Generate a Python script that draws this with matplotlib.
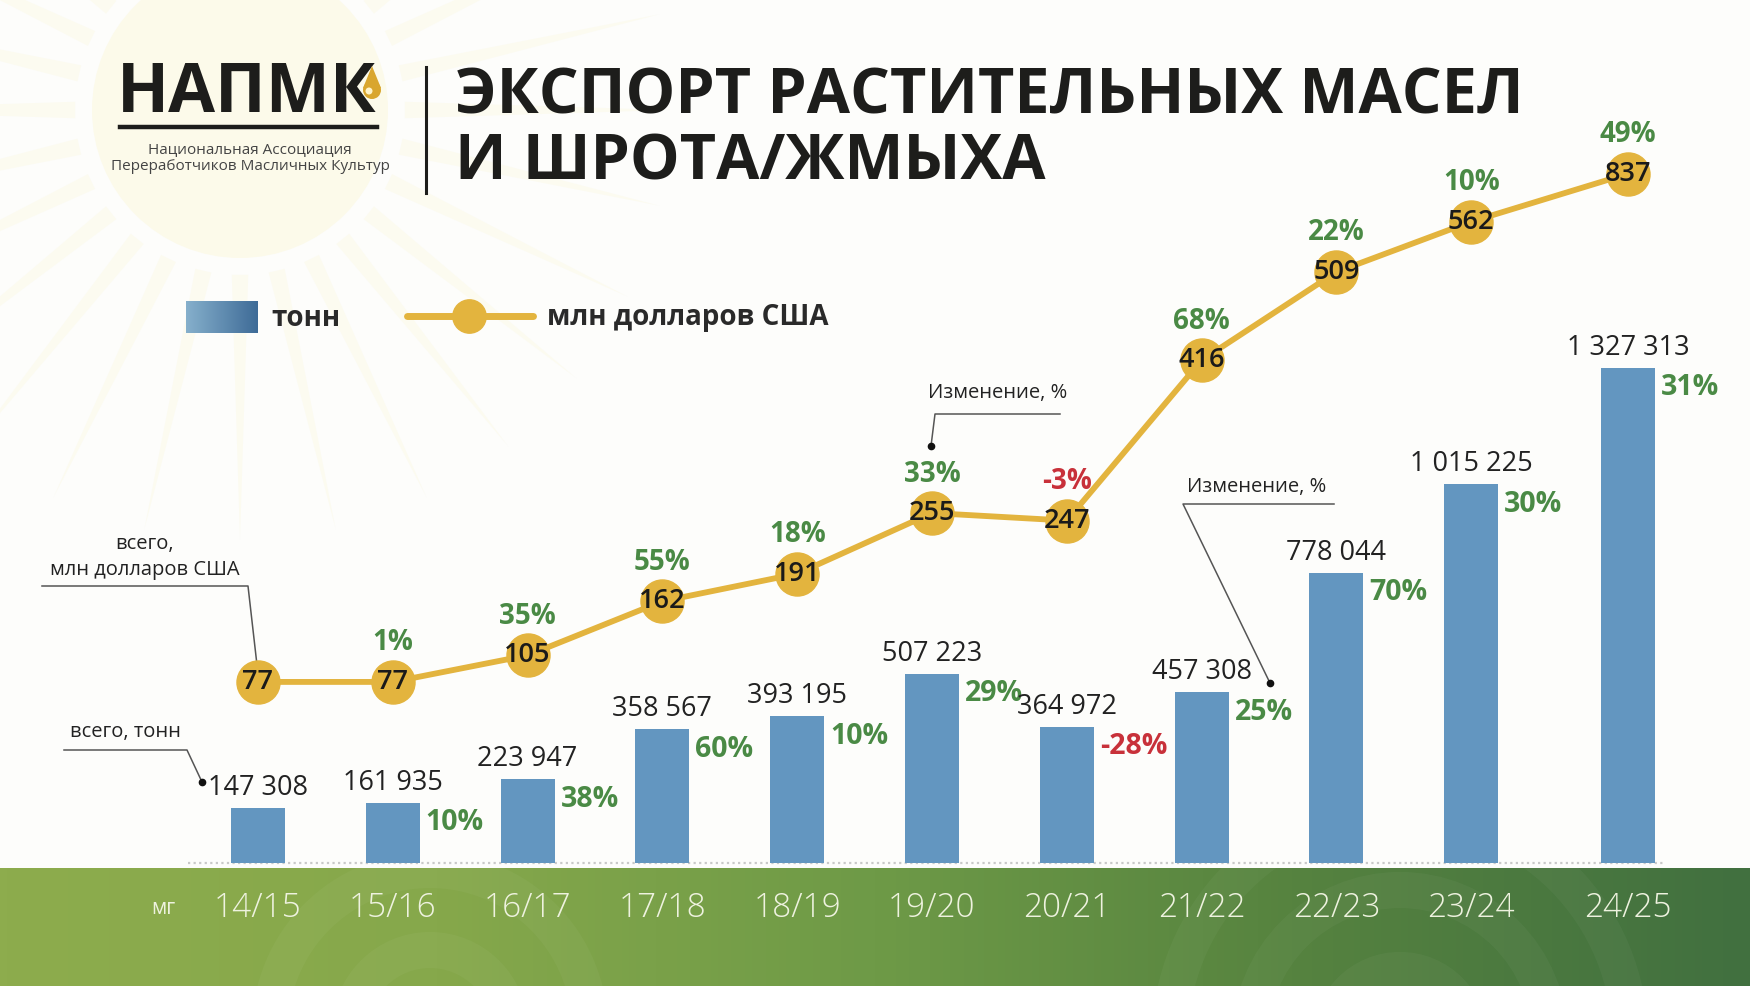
import numpy as np
import matplotlib
matplotlib.use("Agg")
import matplotlib.pyplot as plt
from matplotlib.colors import LinearSegmentedColormap
from matplotlib.patches import Circle, Polygon, Rectangle

FONT = "Open Sans"
plt.rcParams["font.family"] = [FONT, "DejaVu Sans"]

# data
seasons = ["14/15", "15/16", "16/17", "17/18", "18/19", "19/20",
           "20/21", "21/22", "22/23", "23/24", "24/25"]
tonnes = [147308, 161935, 223947, 358567, 393195, 507223,
          364972, 457308, 778044, 1015225, 1327313]
tonnes_change = [None, 10, 38, 60, 10, 29, -28, 25, 70, 30, 31]
usd_mln = [77, 77, 105, 162, 191, 255, 247, 416, 509, 562, 837]
usd_change = [None, 1, 35, 55, 18, 33, -3, 68, 22, 10, 49]

# colours
BAR = "#6396C0"
GOLD = "#E3B43E"
UP = "#4A8A45"
DOWN = "#C8313A"
INK = "#1d1d1b"

# layout (pixels of the 1750x986 canvas)
W, H = 1750, 986
X0_PX, STEP_PX = 258, 134.8
BASE_PX = 863
BAND_PX = 868
T_PER_PX = 2680


def fmt_thousands(v):
    return f"{v:,}".replace(",", " ")


def pct(v):
    return f"{v}%"


fig = plt.figure(figsize=(W / 100, H / 100), dpi=100)
fig.patch.set_facecolor("#fdfdfb")

# background layer in pixel coordinates
bg = fig.add_axes([0, 0, 1, 1], zorder=0)
bg.set_xlim(0, W)
bg.set_ylim(H, 0)
bg.axis("off")

# pale sun ornament top-left
for i in range(28):
    a = np.deg2rad(i * 360 / 28)
    a1, a2 = a - 0.05, a + 0.05
    r1, r2 = 165, 430
    cx, cy = 240, 110
    pts = [(cx + r1 * np.cos(a1), cy + r1 * np.sin(a1)),
           (cx + r2 * np.cos(a), cy + r2 * np.sin(a)),
           (cx + r1 * np.cos(a2), cy + r1 * np.sin(a2))]
    bg.add_patch(Polygon(pts, closed=True, color="#fcfbf0", lw=0))
bg.add_patch(Circle((240, 110), 148, color="#fcfaea", lw=0))

# green band with gradient
band_cmap = LinearSegmentedColormap.from_list(
    "band", ["#8DAC4D", "#86A84B", "#6E9A47", "#55823F", "#41703F"])
grad = np.linspace(0, 1, 512).reshape(1, -1)
bg.imshow(grad, cmap=band_cmap, extent=[0, W, H, BAND_PX], aspect="auto",
          zorder=1)
band_clip = Rectangle((0, BAND_PX), W, H - BAND_PX, transform=bg.transData)
for cx, cy, radii in [(430, 1030, [80, 160]),
                      (1400, 1040, [70, 150, 230])]:
    for r in radii:
        c = Circle((cx, cy), r, fill=False, ec="#ffffff", lw=26, alpha=0.035,
                   zorder=2)
        bg.add_patch(c)
        c.set_clip_path(band_clip)

# header: logo
bg.text(117, 112, "НАПМК", fontsize=49, fontweight="bold", color=INK,
        ha="left", va="baseline")
bg.add_patch(Circle((372, 90), 9, color="#D9A62E", lw=0, zorder=3))
bg.add_patch(Polygon([(363, 88), (372, 66), (381, 88)], closed=True,
                     color="#D9A62E", lw=0, zorder=3))
bg.add_patch(Circle((369, 91), 3.5, color="#fff3c8", lw=0, zorder=4))
bg.plot([120, 377], [127, 127], color=INK, lw=3.2)
bg.text(250, 153, "Национальная Ассоциация", fontsize=11, color="#444444",
        ha="center", va="baseline")
bg.text(250, 170, "Переработчиков Масличных Культур", fontsize=11,
        color="#444444", ha="center", va="baseline")
bg.plot([426, 426], [67, 193], color=INK, lw=2.2)

# header: title
bg.text(455, 113, "ЭКСПОРТ РАСТИТЕЛЬНЫХ МАСЕЛ", fontsize=45.2,
        fontweight="bold", color=INK, ha="left", va="baseline")
bg.text(455, 179, "И ШРОТА/ЖМЫХА", fontsize=45.2, fontweight="bold",
        color=INK, ha="left", va="baseline")

# legend
leg_cmap = LinearSegmentedColormap.from_list("leg", ["#86B0CC", "#3E6B97"])
bg.imshow(grad, cmap=leg_cmap, extent=[186, 258, 333, 301], aspect="auto",
          zorder=3)
bg.text(271, 318, "тонн", fontsize=20, fontweight="bold", color="#2a2a2a",
        ha="left", va="center")
bg.plot([407, 533], [316, 316], color=GOLD, lw=5, solid_capstyle="round")
bg.plot([469], [316], marker="o", ms=24, color=GOLD)
bg.text(547, 318, "млн долларов США", fontsize=20, fontweight="bold",
        color="#2a2a2a", ha="left", va="center")

# callouts with leader lines
callouts = [
    ("всего,\nмлн долларов США", (145, 557), [(42, 586), (248, 586), (257, 665)]),
    ("всего, тонн", (125, 732), [(64, 750), (187, 750), (202, 782)]),
    ("Изменение, %", (998, 393), [(1060, 414), (935, 414), (931, 446)]),
    ("Изменение, %", (1257, 487), [(1334, 504), (1183, 504), (1270, 683)]),
]
for label, (tx, ty), path in callouts:
    bg.text(tx, ty, label, fontsize=14.5, color="#222222", ha="center",
            va="center", linespacing=1.35, zorder=5)
    px, py = zip(*path)
    bg.plot(px, py, color="#555555", lw=1.1, zorder=5)
    bg.plot([px[-1]], [py[-1]], marker="o", ms=4.5, color="#111111", zorder=6)

# bars
x = np.arange(len(seasons), dtype=float)
x[-1] += 0.165

ax = fig.add_axes([0, 0, 1, 1], zorder=2)
ax.patch.set_alpha(0)
ax.set_xlim(-X0_PX / STEP_PX, (W - X0_PX) / STEP_PX)
ax.set_ylim(-(H - BASE_PX) * T_PER_PX, BASE_PX * T_PER_PX)
ax.axis("off")

ax.bar(x, tonnes, width=0.4, color=BAR, zorder=3)
ax.hlines(0, x[0] - 0.52, x[-1] + 0.27, colors="#c9c9c9",
          linestyles=(0, (1, 1.5)), lw=1.6, zorder=2)

for xi, v, ch in zip(x, tonnes, tonnes_change):
    ax.annotate(fmt_thousands(v), (xi, v), xytext=(0, 6),
                textcoords="offset pixels", ha="center", va="bottom",
                fontsize=19.5, color="#222222", zorder=4)
    if ch is not None:
        ax.annotate(pct(ch), (xi + 0.2, v), xytext=(6, -20),
                    textcoords="offset pixels", ha="left", va="center",
                    fontsize=20.5, fontweight="bold",
                    color=UP if ch >= 0 else DOWN, zorder=4)

# category labels on the green band
xt = ax.get_xaxis_transform()
label_y = (H - 908) / H
for xi, s in zip(x, seasons):
    ax.text(xi, label_y, s, transform=xt, fontsize=24, fontweight="light",
            color="#EEF2DF", ha="center", va="center")
ax.text(-0.7, label_y, "мг", transform=xt, fontsize=15, color="#EEF2DF",
        ha="center", va="center")

# line (USD, mln) on a compressed-top scale, as in the original layout
BREAK = usd_mln[-2]
K = 0.184


def fwd(v):
    v = np.asarray(v, dtype=float)
    return np.where(v <= BREAK, v, BREAK + (v - BREAK) * K)


def inv(u):
    u = np.asarray(u, dtype=float)
    return np.where(u <= BREAK, u, BREAK + (u - BREAK) / K)


ax2 = ax.twinx()
ax2.set_yscale("function", functions=(fwd, inv))
u_per_px = 1 / 0.949
ax2.set_ylim(-231 * u_per_px, float(inv((H - 231) * u_per_px)))
ax2.axis("off")

ax2.plot(x, usd_mln, color=GOLD, lw=4.2, marker="o", ms=31, mfc=GOLD,
         mec=GOLD, zorder=3)
for xi, v, ch in zip(x, usd_mln, usd_change):
    ax2.text(xi, v, str(v), fontsize=19.5, fontweight="semibold",
             color="#1a1a1a", ha="center", va="center", zorder=4)
    if ch is not None:
        ax2.annotate(pct(ch), (xi, v), xytext=(0, 39),
                     textcoords="offset pixels", ha="center", va="center",
                     fontsize=20, fontweight="bold",
                     color=UP if ch >= 0 else DOWN, zorder=4)

fig.savefig("out.png", dpi=100)
